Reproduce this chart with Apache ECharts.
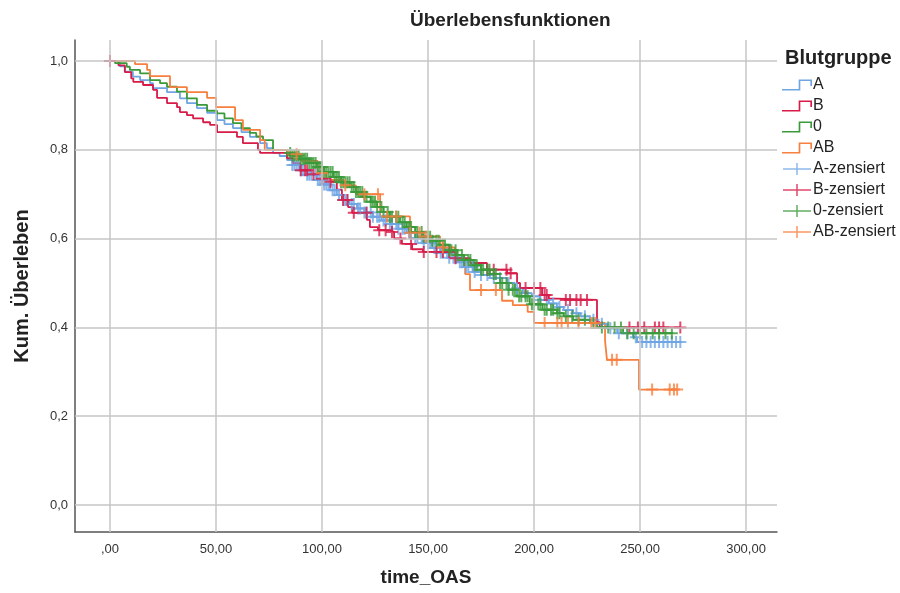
<!DOCTYPE html>
<html>
<head>
<meta charset="utf-8">
<script src="https://cdn.jsdelivr.net/npm/echarts@6/dist/echarts.min.js"></script>
<style>
  html, body { margin: 0; padding: 0; background: #fff; }
  #chart { width: 900px; height: 593px; }
</style>
</head>
<body>
<div id="chart"></div>
<script>
// tick values and their SPSS style labels
var xTicks = [0, 50, 100, 150, 200, 250, 300];
var xTickLabels = [',00', '50,00', '100,00', '150,00', '200,00', '250,00', '300,00'];
var yTicks = [0, 0.2, 0.4, 0.6, 0.8, 1.0];
var yTickLabels = ['0,0', '0,2', '0,4', '0,6', '0,8', '1,0'];

var groups = ['A', 'B', '0', 'AB'];

// Kaplan-Meier steps [time, survival]
var stepsA = [
    [0, 1], [4.7, 0.988], [7.1, 0.976], [10.8, 0.965], [14.2, 0.957], [18.9, 0.95], [20.3, 0.939],
    [26.9, 0.93], [33, 0.916], [36.3, 0.905], [41, 0.894], [45.8, 0.883], [50.5, 0.867], [54, 0.858],
    [58, 0.849], [62, 0.84], [66, 0.829], [70.8, 0.815], [74, 0.804], [76.9, 0.793], [80, 0.786],
    [83.5, 0.777], [86, 0.766], [89.6, 0.754], [93, 0.744], [97.6, 0.732], [100, 0.722], [103.8, 0.709],
    [107, 0.698], [109.9, 0.687], [113, 0.678], [116.5, 0.668], [120, 0.659], [124, 0.649], [128, 0.641],
    [132, 0.633], [136, 0.622], [140, 0.613], [144, 0.601], [147.6, 0.59], [152, 0.579], [155.7, 0.568],
    [160, 0.557], [163.7, 0.547], [167, 0.536], [171.2, 0.525], [175, 0.518], [179.2, 0.511],
    [187.3, 0.5], [191, 0.488], [194.8, 0.477], [199, 0.47], [202.8, 0.462], [207, 0.454],
    [210.8, 0.446], [214, 0.439], [218.4, 0.432], [222, 0.425], [226.4, 0.417], [230, 0.408],
    [234.4, 0.398], [239.2, 0.387], [246.7, 0.378], [248.6, 0.367], [268.9, 0.367]
];
var stepsB = [
    [0, 1], [4, 0.99], [7, 0.975], [10, 0.961], [11, 0.953], [15.6, 0.946], [20.3, 0.935],
    [22.2, 0.917], [26.9, 0.905], [31.6, 0.896], [33, 0.885], [36.3, 0.878], [39.2, 0.871],
    [43.9, 0.862], [47.2, 0.856], [50.5, 0.84], [59.9, 0.829], [62.7, 0.815], [69.8, 0.8],
    [70.8, 0.793], [83.5, 0.781], [86.3, 0.77], [89.6, 0.754], [95, 0.745], [100, 0.735],
    [104, 0.728], [107, 0.71], [109.4, 0.687], [112.3, 0.671], [114.2, 0.658], [121.2, 0.642],
    [122.6, 0.626], [126.4, 0.619], [132, 0.615], [134, 0.6], [137.7, 0.588], [142.5, 0.576],
    [147.6, 0.57], [162.7, 0.556], [170, 0.545], [177.8, 0.53], [187.3, 0.522], [192, 0.5],
    [193.4, 0.489], [203.8, 0.473], [207, 0.465], [210.8, 0.462], [229.7, 0.412], [231, 0.4],
    [268.9, 0.4]
];
var steps0 = [
    [0, 1], [2.4, 0.995], [7.9, 0.987], [9.4, 0.98], [14.2, 0.972], [18.9, 0.957], [23.6, 0.95],
    [26.9, 0.942], [31.6, 0.931], [36.3, 0.916], [41, 0.901], [45.8, 0.888], [50.5, 0.882],
    [54, 0.871], [58, 0.86], [62, 0.849], [66, 0.838], [69, 0.83], [72.2, 0.822], [76.9, 0.8],
    [83.5, 0.793], [86, 0.787], [89.6, 0.78], [94, 0.77], [97.6, 0.761], [101, 0.75], [105.2, 0.739],
    [109, 0.727], [113.2, 0.716], [116, 0.705], [119.3, 0.694], [123, 0.683], [126, 0.671],
    [129, 0.66], [132, 0.649], [136.8, 0.637], [140, 0.626], [144, 0.615], [147.6, 0.604],
    [152, 0.595], [155.7, 0.586], [160, 0.574], [163.7, 0.563], [167, 0.552], [171.2, 0.54],
    [175, 0.53], [179.2, 0.52], [184, 0.5], [188, 0.485], [192, 0.47], [198, 0.452], [204, 0.44],
    [210.8, 0.432], [214, 0.425], [218.4, 0.417], [226.4, 0.41], [229.7, 0.4], [242, 0.387],
    [265.6, 0.387]
];
var stepsAB = [
    [0, 1], [11.8, 0.993], [17.5, 0.98], [18.9, 0.966], [28.3, 0.941], [36.3, 0.93], [45.8, 0.917],
    [50, 0.896], [59, 0.867], [62.7, 0.845], [70.8, 0.822], [73, 0.8], [84, 0.79], [90, 0.775],
    [98, 0.748], [102, 0.732], [110, 0.72], [116, 0.7], [127.4, 0.65], [141.5, 0.613],
    [147, 0.605], [155.7, 0.58], [162.7, 0.55], [167.5, 0.52], [169.8, 0.484], [184.9, 0.46],
    [190, 0.45], [197, 0.435], [200, 0.41], [233.5, 0.37], [234.4, 0.327], [249.5, 0.26],
    [267.5, 0.26]
];

// censoring times (the + marks)
var censA = [86, 87, 88, 89, 90, 91, 93, 94, 95, 97, 98, 99, 101, 102, 103, 105, 106, 108, 110,
    111, 112, 114, 115, 117, 118, 120, 121, 123, 124, 126, 127, 129, 130, 132, 133, 135, 136, 138,
    139, 141, 142, 144, 145, 147, 148, 150, 151, 153, 154, 156, 157, 159, 160, 162, 163, 165, 166,
    168, 169, 171, 172, 175, 178, 181, 184, 188, 192, 196, 200, 203, 206, 209, 212, 216, 220, 224,
    228, 232, 236, 240, 244, 248, 251, 253, 255, 257, 259, 261, 263, 265, 267, 269];
var censB = [0, 90, 92, 93, 96, 100, 104, 110, 112, 115, 121, 127, 130, 133, 137, 142, 148, 154,
    157, 160, 163, 178, 181, 187, 189, 196, 200, 203, 205, 206, 215, 217, 220, 222, 225, 245,
    249, 252, 257, 259, 261, 269];
var cens0 = [85, 86, 87, 88, 89, 90, 91, 92, 93, 94, 95, 96, 97, 98, 99, 100, 101, 102, 103, 104,
    105, 106, 107, 108, 109, 110, 111, 112, 113, 114, 115, 116, 117, 118, 119, 120, 121, 123, 124,
    125, 126, 128, 129, 131, 132, 133, 135, 136, 138, 139, 141, 142, 144, 145, 147, 148, 150, 151,
    152, 154, 155, 157, 158, 160, 161, 163, 164, 166, 167, 169, 170, 172, 173, 175, 176, 178, 179,
    181, 182, 184, 185, 187, 188, 190, 191, 193, 194, 196, 197, 199, 200, 202, 203, 205, 206, 208,
    209, 211, 212, 215, 218, 221, 224, 228, 232, 235, 238, 241, 244, 247, 250, 253, 256, 259, 262,
    265];
var censAB = [88, 100, 111, 120, 126.4, 130.7, 135, 141.5, 146, 149, 157, 175, 182, 205, 211,
    213, 216, 221, 227, 229, 236.8, 239, 255.7, 264, 266, 267.5];

var colors = ['#6fa5e3', '#d81b48', '#3a9a3a', '#f7803f'];

function survAt(steps, t) {
    var s = steps[0][1];
    for (var i = 0; i < steps.length; i++) {
        if (steps[i][0] <= t) s = steps[i][1];
        else break;
    }
    return s;
}

var stepIcon = 'path://M0,8.5 L15,8.5 L15,0 L27,0 L27,6 L25.5,6 L25.5,1.5 L16.5,1.5 L16.5,10 L0,10 Z';
var plusIcon = 'path://M0,5.25 L13.25,5.25 L13.25,0 L14.75,0 L14.75,5.25 L28,5.25 L28,6.75 L14.75,6.75 L14.75,12 L13.25,12 L13.25,6.75 L0,6.75 Z';

function createViz() {
    var myChart = echarts.init(document.getElementById('chart'));
    var allSteps = [stepsA, stepsB, steps0, stepsAB];
    var allCens = [censA, censB, cens0, censAB];

    var series = [{
        // only carries the grid lines
        type: 'line',
        data: [],
        z: 1,
        silent: true,
        markLine: {
            silent: true,
            symbol: 'none',
            label: { show: false },
            lineStyle: { color: '#c6c6c6', width: 1.5, type: 'solid' },
            emphasis: { disabled: true },
            data: xTicks.map(function (v) { return { xAxis: v }; })
                .concat(yTicks.map(function (v) { return { yAxis: v }; }))
        }
    }];
    var legendData = [];

    groups.forEach(function (g, i) {
        series.push({
            name: g,
            type: 'line',
            step: 'end',
            showSymbol: false,
            symbol: 'none',
            z: 3,
            lineStyle: { color: colors[i], width: 1.8 },
            itemStyle: { color: colors[i] },
            data: allSteps[i]
        });
        legendData.push({ name: g, icon: stepIcon, itemStyle: { color: colors[i], borderWidth: 0 } });
    });
    groups.forEach(function (g, i) {
        series.push({
            name: g + '-zensiert',
            type: 'scatter',
            symbol: 'path://M5,0 L5,10 M0,5 L10,5',
            symbolSize: [12, 12],
            z: 4,
            itemStyle: { color: 'rgba(0,0,0,0)', borderColor: colors[i], borderWidth: 2 },
            data: allCens[i].map(function (t) { return [t, survAt(allSteps[i], t)]; })
        });
        legendData.push({ name: g + '-zensiert', icon: plusIcon, itemStyle: { color: colors[i], borderWidth: 0 } });
    });

    var option = {
        animation: false,
        textStyle: { fontFamily: 'Liberation Sans, Arial, sans-serif' },
        title: [
            {
                text: 'Überlebensfunktionen',
                left: 405,
                top: 6,
                textStyle: { fontSize: 19, fontWeight: 'bold', color: '#222' }
            },
            {
                text: 'Blutgruppe',
                left: 780,
                top: 43,
                textStyle: { fontSize: 20, fontWeight: 'bold', color: '#222' }
            }
        ],
        legend: {
            orient: 'vertical',
            left: 777,
            top: 72,
            itemWidth: 30,
            itemHeight: 12,
            itemGap: 5,
            textStyle: { fontSize: 16, color: '#222', padding: [0, 0, 0, -4] },
            data: legendData
        },
        grid: {
            left: 75,
            right: 123,
            top: 40,
            bottom: 61
        },
        xAxis: {
            type: 'value',
            min: -16.5,
            max: 314.6,
            name: 'time_OAS',
            nameLocation: 'middle',
            nameGap: 36,
            nameTextStyle: { fontSize: 19, fontWeight: 'bold', color: '#222' },
            axisLine: { show: true, onZero: false, lineStyle: { color: '#555', width: 1.5 } },
            axisTick: { show: false, customValues: xTicks },
            splitLine: { show: false },
            axisLabel: {
                customValues: xTicks,
                margin: 11,
                fontSize: 13,
                color: '#333',
                formatter: function (v) { return xTickLabels[xTicks.indexOf(v)]; }
            }
        },
        yAxis: {
            type: 'value',
            min: -0.0608,
            max: 1.0473,
            name: 'Kum. Überleben',
            nameLocation: 'middle',
            nameGap: 43,
            nameTextStyle: { fontSize: 20, fontWeight: 'bold', color: '#222' },
            axisLine: { show: true, onZero: false, lineStyle: { color: '#555', width: 1.5 } },
            axisTick: { show: false, customValues: yTicks },
            splitLine: { show: false },
            axisLabel: {
                customValues: yTicks,
                margin: 7,
                fontSize: 13,
                color: '#333',
                formatter: function (v) { return yTickLabels[Math.round(v / 0.2)]; }
            }
        },
        series: series
    };

    myChart.setOption(option);
}

createViz();
</script>
</body>
</html>
